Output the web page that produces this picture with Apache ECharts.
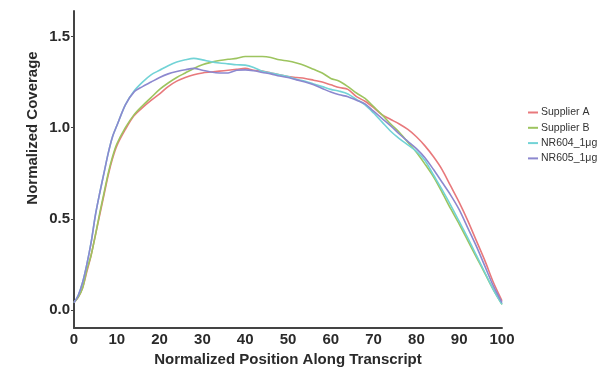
<!DOCTYPE html>
<html>
<head>
<meta charset="utf-8">
<script src="https://cdn.jsdelivr.net/npm/echarts@6/dist/echarts.min.js"></script>
<style>html,body{margin:0;padding:0;background:#fff}#c{width:606px;height:372px}</style>
</head>
<body>
<div id="c"></div>
<script>
const positions = [0,1,2,3,4,5,6,7,8,9,10,12,14,16,18,20,22,24,26,28,30,32,34,36,38,40,42,44,46,48,50,52,54,56,58,60,62,64,66,68,70,72,74,76,78,80,82,84,86,88,90,92,94,96,98,100];
const seriesNames = ["Supplier A","Supplier B","NR604_1μg","NR605_1μg"];
const supplierA = [0.04,0.07,0.12,0.21,0.30,0.41,0.52,0.63,0.74,0.83,0.90,0.99,1.065,1.11,1.15,1.185,1.225,1.255,1.275,1.29,1.30,1.305,1.31,1.315,1.32,1.325,1.315,1.31,1.30,1.29,1.28,1.275,1.27,1.26,1.25,1.235,1.22,1.21,1.17,1.145,1.11,1.07,1.045,1.02,0.99,0.95,0.90,0.84,0.77,0.68,0.59,0.49,0.38,0.27,0.15,0.05];
const supplierB = [0.04,0.07,0.12,0.22,0.30,0.41,0.53,0.64,0.75,0.84,0.91,1.00,1.07,1.12,1.165,1.21,1.245,1.275,1.30,1.325,1.345,1.358,1.368,1.375,1.38,1.39,1.39,1.39,1.385,1.372,1.366,1.355,1.34,1.32,1.30,1.27,1.255,1.225,1.19,1.16,1.115,1.07,1.02,0.975,0.92,0.865,0.80,0.73,0.645,0.555,0.47,0.38,0.29,0.20,0.11,0.03];
const nr604 = [0.04,0.08,0.15,0.25,0.37,0.52,0.64,0.75,0.86,0.95,1.01,1.125,1.20,1.25,1.29,1.315,1.34,1.36,1.372,1.38,1.372,1.362,1.355,1.35,1.345,1.343,1.33,1.31,1.30,1.29,1.28,1.265,1.255,1.24,1.225,1.21,1.20,1.185,1.155,1.125,1.08,1.03,0.98,0.94,0.905,0.87,0.82,0.74,0.66,0.575,0.485,0.395,0.30,0.205,0.11,0.03];
const nr605 = [0.04,0.08,0.15,0.25,0.37,0.52,0.64,0.75,0.86,0.95,1.01,1.125,1.195,1.225,1.25,1.275,1.295,1.308,1.318,1.325,1.315,1.305,1.30,1.30,1.315,1.317,1.312,1.303,1.295,1.283,1.275,1.262,1.25,1.235,1.215,1.195,1.18,1.17,1.15,1.13,1.09,1.05,1.01,0.965,0.925,0.885,0.835,0.77,0.70,0.63,0.55,0.45,0.35,0.24,0.13,0.04];
const yTicks = [0, 0.5, 1.0, 1.5];
const colors = ["#e8797c","#9dc45f","#72d3d6","#8c88cf"];
const allValues = [supplierA, supplierB, nr604, nr605];

const chart = echarts.init(document.getElementById('c'), null, {renderer:'canvas'});
const font = "'Liberation Sans', Arial, sans-serif";
chart.setOption({
  animation: false,
  textStyle: {fontFamily: font},
  grid: {left: 74, width: 428, top: 11, height: 320, containLabel: false},
  legend: {
    orient: 'vertical', left: 528, top: 107, padding: 0,
    itemWidth: 10, itemHeight: 2, itemGap: 4.3, icon: 'rect',
    textStyle: {fontSize: 10.5, color: '#333', fontFamily: font, padding: [0,0,0,-2]},
    data: seriesNames
  },
  xAxis: {
    type: 'value', min: 0, max: 100, interval: 10,
    name: 'Normalized Position Along Transcript', nameLocation: 'middle', nameGap: 19,
    nameTextStyle: {fontSize: 15, fontWeight: 'bold', color: '#2a2a2a', fontFamily: font},
    axisLine: {show: true, onZero: false, lineStyle: {color: '#444', width: 2}},
    axisTick: {show: false},
    axisLabel: {fontSize: 15, fontWeight: 'bold', color: '#2a2a2a', margin: 4, fontFamily: font},
    splitLine: {show: false}
  },
  yAxis: {
    type: 'value', min: -0.1, max: 1.64,
    axisLine: {show: true, onZero: false, lineStyle: {color: '#444', width: 2}},
    axisTick: {show: true, length: 3, lineStyle: {color: '#444'}, customValues: yTicks},
    axisLabel: {fontSize: 15, fontWeight: 'bold', color: '#2a2a2a', margin: 4, fontFamily: font,
      customValues: yTicks, formatter: v => v.toFixed(1)},
    splitLine: {show: false}
  },
  graphic: [{
    type: 'text', x: 33, y: 128, rotation: Math.PI/2,
    style: {text: 'Normalized Coverage', font: "bold 15px 'Liberation Sans', Arial, sans-serif",
      fill: '#2a2a2a', textAlign: 'center', textVerticalAlign: 'middle'}
  }],
  series: seriesNames.map((n, i) => ({
    name: n, type: 'line', showSymbol: false, smooth: 0.3,
    lineStyle: {width: 1.6, color: colors[i]}, itemStyle: {color: colors[i]},
    data: positions.map((p, j) => [p, allValues[i][j]])
  }))
});
</script>
</body>
</html>
